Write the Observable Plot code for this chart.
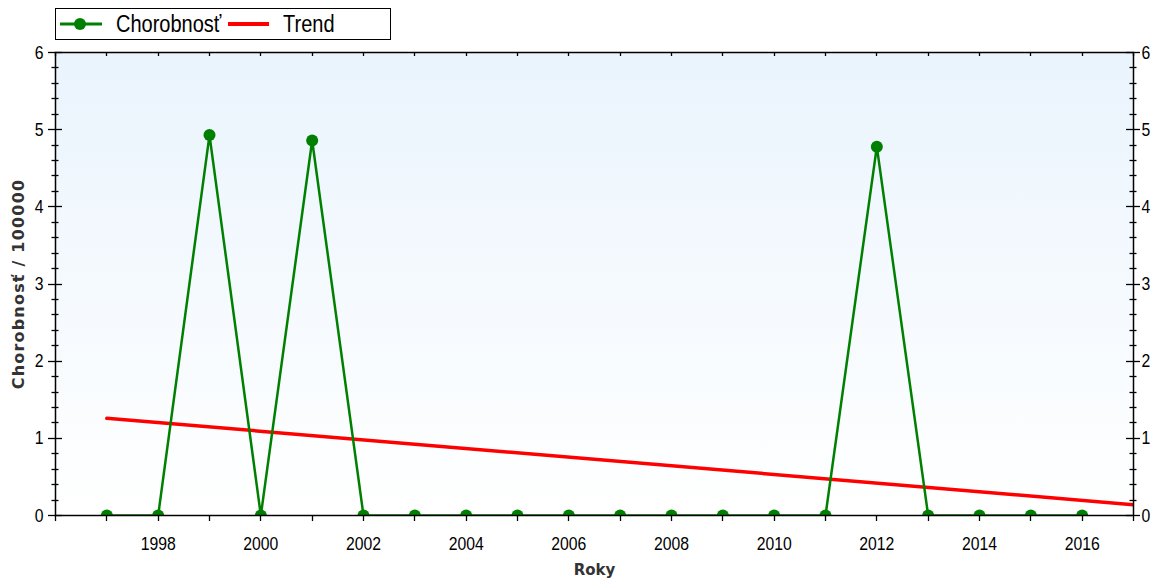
<!DOCTYPE html>
<html><head><meta charset="utf-8">
<script src="https://cdn.jsdelivr.net/npm/d3@7"></script>
<script src="https://cdn.jsdelivr.net/npm/@observablehq/plot@0.6"></script>
<style>
body{margin:0;background:#fff;font-family:"Liberation Sans",Arial,sans-serif;}
#legend{height:40px;width:1156px;}
#legend svg{display:block;}
#chart svg{display:block;}
</style></head><body>
<div id="legend">
<svg width="1156" height="40" font-family="Liberation Sans, Arial, sans-serif">
  <rect x="55.5" y="8.5" width="335" height="31" fill="#fff" stroke="#000" stroke-width="1"/>
  <line x1="60" x2="102" y1="24" y2="24" stroke="#008000" stroke-width="3"/>
  <circle cx="80" cy="24" r="6" fill="#008000"/>
  <text transform="translate(116,32) scale(0.87,1)" font-size="23" fill="#000">Chorobnosť</text>
  <line x1="228" x2="269" y1="24" y2="24" stroke="#ff0000" stroke-width="4"/>
  <text transform="translate(283,32) scale(0.87,1)" font-size="23" fill="#000">Trend</text>
</svg>
</div>
<div id="chart"></div>
<script>
// ---- data ----
const years = [1997,1998,1999,2000,2001,2002,2003,2004,2005,2006,2007,2008,2009,2010,2011,2012,2013,2014,2015,2016];
const incidence = [0,0,4.93,0,4.86,0,0,0,0,0,0,0,0,0,0,4.78,0,0,0,0];
const trendYears = [1997, 2017];
const trendValues = [1.26, 0.14];
const yTicks = [0,1,2,3,4,5,6];
const yMinorTicks = d3.range(0, 31).map(i => i / 5);
const xTickLabels = [1998,2000,2002,2004,2006,2008,2010,2012,2014,2016];
const xTicks = d3.range(1996, 2018);
const xDomain = [1996, 2017];
const yDomain = [0, 6];

const series = years.map((y, i) => ({year: y, value: incidence[i]}));
const trend = trendYears.map((y, i) => ({year: y, value: trendValues[i]}));

const background = (index, scales, values, dim) => {
  const g = d3.create("svg:g");
  const grad = g.append("defs").append("linearGradient")
    .attr("id", "bgGrad").attr("x1", 0).attr("y1", 0).attr("x2", 0).attr("y2", 1);
  grad.append("stop").attr("offset", "0%").attr("stop-color", "#eaf4fd");
  grad.append("stop").attr("offset", "100%").attr("stop-color", "#ffffff");
  g.append("rect")
    .attr("x", dim.marginLeft).attr("y", dim.marginTop)
    .attr("width", dim.width - dim.marginLeft - dim.marginRight)
    .attr("height", dim.height - dim.marginTop - dim.marginBottom)
    .attr("fill", "url(#bgGrad)");
  return g.node();
};

const tickMarks = (index, scales, values, dim) => {
  const g = d3.create("svg:g").attr("stroke", "#000").attr("stroke-width", 1.3);
  const left = dim.marginLeft, right = dim.width - dim.marginRight;
  const top = dim.marginTop, bottom = dim.height - dim.marginBottom;
  for (const t of xTicks) {
    const x = Math.round(scales.x(t)) + 0.5;
    g.append("line").attr("x1", x).attr("x2", x).attr("y1", bottom).attr("y2", bottom + 6);
    g.append("line").attr("x1", x).attr("x2", x).attr("y1", top).attr("y2", top + 4);
  }
  for (const t of yMinorTicks) {
    const y = Math.round(scales.y(t)) + 0.5;
    const major = yTicks.some(v => Math.abs(v - t) < 1e-9);
    const h = major ? 7 : 3.5;
    g.append("line").attr("x1", left - h).attr("x2", left + h).attr("y1", y).attr("y2", y);
    g.append("line").attr("x1", right - h).attr("x2", right + h).attr("y1", y).attr("y2", y);
  }
  return g.node();
};

const chart = Plot.plot({
  width: 1156,
  height: 542,
  marginTop: 12,
  marginBottom: 67,
  marginLeft: 55,
  marginRight: 23,
  style: {fontFamily: "Liberation Sans, Arial, sans-serif", fontSize: "18px", color: "#000", background: "transparent"},
  x: {domain: xDomain},
  y: {domain: yDomain},
  marks: [
    background,
    Plot.line(trend, {x: "year", y: "value", stroke: "#ff0000", strokeWidth: 3.5, clip: true}),
    Plot.line(series, {x: "year", y: "value", stroke: "#008000", strokeWidth: 2.5, clip: true}),
    Plot.dot(series, {x: "year", y: "value", r: 6, fill: "#008000", stroke: "none", clip: true}),
    Plot.frame({stroke: "#000", strokeWidth: 1.5}),
    tickMarks,
    Plot.axisY(yTicks, {anchor: "left", tickSize: 0, tickPadding: 12, label: null, tickFormat: d => String(d)}),
    Plot.axisY(yTicks, {anchor: "right", tickSize: 0, tickPadding: 8, label: null, tickFormat: d => String(d)}),
    Plot.axisX(xTickLabels, {anchor: "bottom", tickSize: 0, tickPadding: 21, label: null, tickFormat: d => String(d)}),
    Plot.text(["Roky"], {frameAnchor: "bottom", dy: 55, lineAnchor: "middle", textAnchor: "middle", text: d => d, fontWeight: "bold", fontSize: 15, fontFamily: "DejaVu Sans, sans-serif", fill: "#333"}),
    Plot.text(["Chorobnosť / 100000"], {frameAnchor: "left", dx: -37, rotate: -90, textAnchor: "middle", lineAnchor: "middle", text: d => d, fontWeight: "bold", fontSize: 16, fontFamily: "DejaVu Sans, sans-serif", fill: "#333"})
  ]
});
document.getElementById("chart").appendChild(chart);

// condensed look for numeric tick labels
d3.select(chart).selectAll("text").each(function() {
  const t = this.textContent.trim();
  if (!/^\d+$/.test(t)) return;
  this.style.fontSize = "19px";
  this.style.fontFamily = "Liberation Sans, Arial, sans-serif";
  const tr = this.getAttribute("transform");
  if (tr) {
    this.setAttribute("transform", tr + " scale(0.83,1)");
  } else {
    const x = +(this.getAttribute("x") || 0), y = +(this.getAttribute("y") || 0);
    this.setAttribute("transform", `translate(${x},${y}) scale(0.83,1) translate(${-x},${-y})`);
  }
});
// axis title letter spacing
d3.select(chart).selectAll("text").filter(function() { return this.textContent.startsWith("Chorob"); })
  .style("letter-spacing", "1.2px");
</script>
</body></html>
